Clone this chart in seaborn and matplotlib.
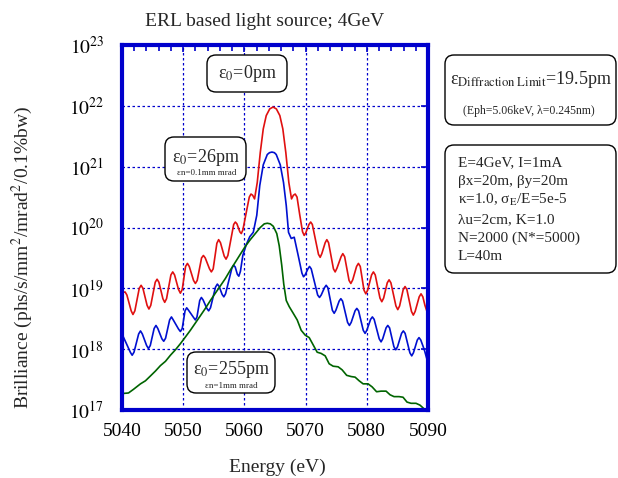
import numpy as np
import matplotlib
matplotlib.use("Agg")
import matplotlib.pyplot as plt
import matplotlib.transforms as mtransforms
from matplotlib.patches import FancyBboxPatch
from matplotlib.ticker import MultipleLocator, FixedLocator, NullLocator
import seaborn as sns

# --- data (energy in eV, log10 of brilliance) ---
red_e = [5040.00, 5040.25, 5040.51, 5040.80, 5041.50, 5041.79, 5042.10, 5042.82, 5043.12, 5043.42,
         5044.10, 5044.40, 5044.70, 5045.43, 5045.73, 5046.03, 5046.68, 5046.98, 5047.28, 5047.99,
         5048.29, 5048.59, 5049.24, 5049.54, 5049.84, 5050.39, 5050.69, 5050.99, 5051.69, 5051.99,
         5052.29, 5053.00, 5053.30, 5053.60, 5054.30, 5054.60, 5054.90, 5055.50, 5055.79, 5056.09,
         5056.70, 5057.00, 5057.30, 5058.25, 5058.52, 5058.78, 5059.25, 5059.49, 5059.75, 5060.31,
         5060.80, 5061.08, 5061.35, 5061.66, 5062.10, 5062.59, 5063.08, 5063.57, 5064.14, 5064.68,
         5065.22, 5065.79, 5066.28, 5066.77, 5067.26, 5067.70, 5068.00, 5068.30, 5068.60, 5069.04,
         5069.50, 5069.77, 5070.02, 5070.55, 5070.83, 5071.10, 5072.10, 5072.38, 5072.65, 5073.20,
         5073.47, 5073.75, 5074.55, 5074.83, 5075.12, 5075.80, 5076.08, 5076.38, 5077.10, 5077.39,
         5077.70, 5078.33, 5078.63, 5078.93, 5079.54, 5079.84, 5080.14, 5080.78, 5081.08, 5081.38,
         5082.15, 5082.45, 5082.75, 5083.34, 5083.64, 5083.94, 5084.76, 5085.06, 5085.36, 5085.95,
         5086.25, 5086.55, 5087.30, 5087.60, 5087.90, 5088.56, 5088.86, 5089.16, 5089.50, 5090.00]
red_log = [18.91, 18.935, 18.94, 18.89, 18.63, 18.57, 18.63, 19.00, 19.05, 19.00,
           18.72, 18.66, 18.72, 19.10, 19.15, 19.10, 18.83, 18.77, 18.83, 19.22,
           19.27, 19.22, 18.98, 18.92, 18.98, 19.36, 19.41, 19.36, 19.13, 19.08,
           19.13, 19.50, 19.54, 19.50, 19.32, 19.27, 19.32, 19.74, 19.80, 19.75,
           19.53, 19.48, 19.54, 20.05, 20.09, 20.06, 19.93, 19.90, 19.96, 20.25,
           20.50, 20.55, 20.53, 20.47, 20.74, 21.23, 21.62, 21.84, 21.95, 21.98,
           21.95, 21.84, 21.62, 21.23, 20.74, 20.47, 20.53, 20.55, 20.50, 20.21,
           19.93, 19.87, 19.91, 20.05, 20.09, 20.05, 19.56, 19.51, 19.57, 19.75,
           19.80, 19.75, 19.32, 19.27, 19.33, 19.52, 19.57, 19.52, 19.13, 19.08,
           19.14, 19.36, 19.41, 19.36, 18.97, 18.91, 18.97, 19.22, 19.27, 19.22,
           18.84, 18.78, 18.84, 19.09, 19.14, 19.09, 18.71, 18.65, 18.71, 18.98,
           19.03, 18.98, 18.62, 18.56, 18.62, 18.86, 18.91, 18.86, 18.72, 18.57]

blue_e = [5040.00, 5041.36, 5041.66, 5041.96, 5042.72, 5043.02, 5043.32, 5044.02, 5044.32, 5044.62,
          5045.25, 5045.55, 5045.85, 5046.52, 5046.82, 5047.12, 5047.78, 5048.08, 5048.38, 5049.24,
          5049.54, 5049.84, 5050.30, 5050.57, 5050.87, 5051.70, 5051.99, 5052.25, 5052.70, 5052.97,
          5053.25, 5053.86, 5054.16, 5054.46, 5055.28, 5055.58, 5055.88, 5056.36, 5056.64, 5056.92,
          5057.95, 5058.24, 5058.50, 5058.85, 5059.09, 5059.35, 5059.74, 5060.31, 5060.88, 5061.45,
          5062.02, 5062.51, 5063.08, 5063.74, 5064.10, 5064.50, 5064.90, 5065.20, 5065.86, 5066.39,
          5066.84, 5067.21, 5067.65, 5068.14, 5068.79, 5069.40, 5069.66, 5069.92, 5070.38, 5070.64,
          5070.92, 5071.97, 5072.27, 5072.55, 5073.08, 5073.36, 5073.64, 5074.37, 5074.67, 5074.95,
          5075.48, 5075.76, 5076.04, 5076.86, 5077.16, 5077.45, 5078.08, 5078.37, 5078.66, 5079.42,
          5079.72, 5080.00, 5080.62, 5080.91, 5081.20, 5082.03, 5082.33, 5082.60, 5083.15, 5083.43,
          5083.72, 5084.43, 5084.73, 5085.02, 5085.68, 5085.97, 5086.26, 5087.04, 5087.34, 5087.62,
          5088.25, 5088.53, 5088.82, 5089.40, 5090.00]
blue_log = [18.25, 17.95, 17.90, 17.95, 18.25, 18.30, 18.25, 18.06, 18.01, 18.06,
            18.34, 18.39, 18.34, 18.17, 18.13, 18.18, 18.48, 18.53, 18.48, 18.33,
            18.29, 18.34, 18.63, 18.68, 18.64, 18.52, 18.48, 18.53, 18.80, 18.85,
            18.81, 18.67, 18.63, 18.68, 19.02, 19.07, 19.03, 18.90, 18.86, 18.91,
            19.33, 19.38, 19.35, 19.23, 19.20, 19.28, 19.54, 19.72, 19.85, 19.92,
            20.20, 20.69, 21.03, 21.20, 21.23, 21.24, 21.23, 21.20, 21.03, 20.74,
            20.36, 19.92, 19.82, 19.84, 19.54, 19.25, 19.19, 19.22, 19.32, 19.36,
            19.32, 18.89, 18.85, 18.89, 19.01, 19.05, 19.01, 18.64, 18.59, 18.64,
            18.79, 18.83, 18.79, 18.44, 18.39, 18.44, 18.63, 18.67, 18.63, 18.31,
            18.26, 18.31, 18.49, 18.53, 18.49, 18.17, 18.12, 18.17, 18.35, 18.39,
            18.35, 18.04, 17.99, 18.04, 18.26, 18.30, 18.26, 17.94, 17.89, 17.94,
            18.15, 18.19, 18.15, 17.99, 17.77]

green_e = [5040.00, 5041.06, 5041.88, 5043.02, 5043.83, 5044.65, 5045.46, 5046.28, 5047.10, 5047.91,
           5048.73, 5049.54, 5050.36, 5051.17, 5051.99, 5052.81, 5053.62, 5054.44, 5055.25, 5056.07,
           5056.88, 5057.70, 5058.52, 5059.33, 5060.15, 5060.96, 5061.78, 5062.59, 5063.25, 5063.74,
           5064.23, 5064.72, 5065.29, 5065.69, 5066.10, 5066.43, 5066.84, 5067.32, 5067.98, 5068.63,
           5069.28, 5069.94, 5070.59, 5071.24, 5071.89, 5072.54, 5073.20, 5073.85, 5074.50, 5075.32,
           5075.97, 5076.71, 5077.44, 5078.09, 5078.75, 5079.40, 5080.21, 5080.87, 5081.60, 5082.33,
           5083.15, 5083.80, 5084.45, 5085.27, 5085.92, 5086.57, 5087.23, 5088.04, 5088.69, 5089.35,
           5089.92]
green_log = [17.27, 17.28, 17.34, 17.43, 17.48, 17.56, 17.64, 17.73, 17.80, 17.90,
             17.99, 18.09, 18.20, 18.31, 18.43, 18.55, 18.67, 18.80, 18.92, 19.04,
             19.16, 19.30, 19.43, 19.56, 19.69, 19.80, 19.90, 20.00, 20.06, 20.07,
             20.06, 20.02, 19.90, 19.70, 19.38, 19.07, 18.80, 18.70, 18.59, 18.48,
             18.31, 18.23, 18.19, 18.07, 17.95, 17.93, 17.89, 17.76, 17.72, 17.71,
             17.66, 17.57, 17.55, 17.54, 17.48, 17.43, 17.43, 17.38, 17.30, 17.31,
             17.31, 17.25, 17.22, 17.22, 17.21, 17.13, 17.11, 17.11, 17.08, 17.02,
             16.98]

x_ticks = [5040, 5050, 5060, 5070, 5080, 5090]
y_exps = [17, 18, 19, 20, 21, 22, 23]

params_lines = ["E=4GeV, I=1mA", "\u03b2x=20m, \u03b2y=20m", "\u03ba=1.0, \u03c3$_\\mathrm{E}$/E=5e-5",
                "\u03bbu=2cm, K=1.0", "N=2000 (N*=5000)", "L=40m"]

# --- style ---
sns.set_theme(style="white")
plt.rcParams["font.family"] = ["Liberation Serif", "DejaVu Serif"]
plt.rcParams["mathtext.fontset"] = "stix"

W, H = 618, 478
frame_blue = "#0000cc"

fig = plt.figure(figsize=(W / 100, H / 100), dpi=100)
fig.patch.set_facecolor("white")
ax = fig.add_axes([122 / W, (H - 410) / H, 306 / W, 365 / H])
ax.set_facecolor("white")

sns.lineplot(x=red_e, y=10 ** np.array(red_log), ax=ax, color="#e01010", lw=1.2, sort=False, estimator=None)
sns.lineplot(x=blue_e, y=10 ** np.array(blue_log), ax=ax, color="#0010d0", lw=1.2, sort=False, estimator=None)
sns.lineplot(x=green_e, y=10 ** np.array(green_log), ax=ax, color="#006400", lw=1.2, sort=False, estimator=None)

ax.set_yscale("log")
ax.set_xlim(5040, 5090)
ax.set_ylim(1e17, 1e23)
ax.xaxis.set_major_locator(FixedLocator(x_ticks))
ax.xaxis.set_minor_locator(MultipleLocator(2))
ax.set_xticklabels([str(t) for t in x_ticks])
ax.yaxis.set_major_locator(FixedLocator([10.0 ** e for e in y_exps]))
ax.yaxis.set_minor_locator(NullLocator())
ax.set_yticklabels([r"$10^{%d}$" % e for e in y_exps])

ax.grid(True, which="major", color=frame_blue, linestyle=(0, (2, 2)), lw=0.9)
for s in ax.spines.values():
    s.set_color(frame_blue)
    s.set_linewidth(3)
ax.tick_params(which="both", direction="in", color=frame_blue, top=True, right=True,
               labelcolor="black", labelsize=14)
ax.tick_params(which="major", length=5, width=1.2)
ax.tick_params(axis="x", which="major", pad=9)
ax.tick_params(axis="y", which="major", pad=13)
ax.tick_params(which="minor", length=4, width=1.2)
ax.set_xlabel("")
ax.set_ylabel("")

# titles and axis labels
fig.text(265 / W, 1 - 21 / H, "ERL based light source; 4GeV", ha="center", va="center", fontsize=14)
fig.text(277 / W, 1 - 459 / H, "Energy (eV)", ha="center", va="top", fontsize=14)
fig.text(22 / W, 1 - 257 / H, "Brilliance (phs/s/mm$^2$/mrad$^2$/0.1%bw)", rotation=90,
         ha="center", va="center", fontsize=14)

# rounded annotation boxes (pixel layout)
px = mtransforms.Affine2D().scale(1 / 100) + fig.dpi_scale_trans


def rbox(x0, y0, x1, y1):
    fig.patches.append(FancyBboxPatch((x0, H - y1), x1 - x0, y1 - y0,
                                      boxstyle="round,pad=0,rounding_size=9", transform=px,
                                      fc="white", ec="black", lw=1.0, zorder=5))


def ftext(x, y, s, size, ha="center"):
    fig.text(x / W, 1 - y / H, s, ha=ha, va="center", fontsize=size, zorder=6)


rbox(207, 55, 287, 92)
ftext(247, 74, "\u03b5$_0$=0pm", 13)

rbox(165, 137, 246, 181)
ftext(206, 157, "\u03b5$_0$=26pm", 13)
ftext(207, 173, "\u03b5n=0.1mm mrad", 6.5)

rbox(187, 352, 275, 393)
ftext(231, 369, "\u03b5$_0$=255pm", 13)
ftext(231, 386, "\u03b5n=1mm mrad", 6.5)

rbox(445, 55, 616, 125)
ftext(450, 80, "\u03b5$_{\\mathrm{Diffraction\\ Limit}}$=19.5pm", 13, ha="left")
ftext(529, 111, "(Eph=5.06keV, \u03bb=0.245nm)", 8.5)

rbox(445, 145, 616, 273)
for i, line in enumerate(params_lines):
    ftext(458, [163, 181.7, 200, 220, 238, 256.7][i], line, 11, ha="left")

fig.savefig("out.png", dpi=100)
